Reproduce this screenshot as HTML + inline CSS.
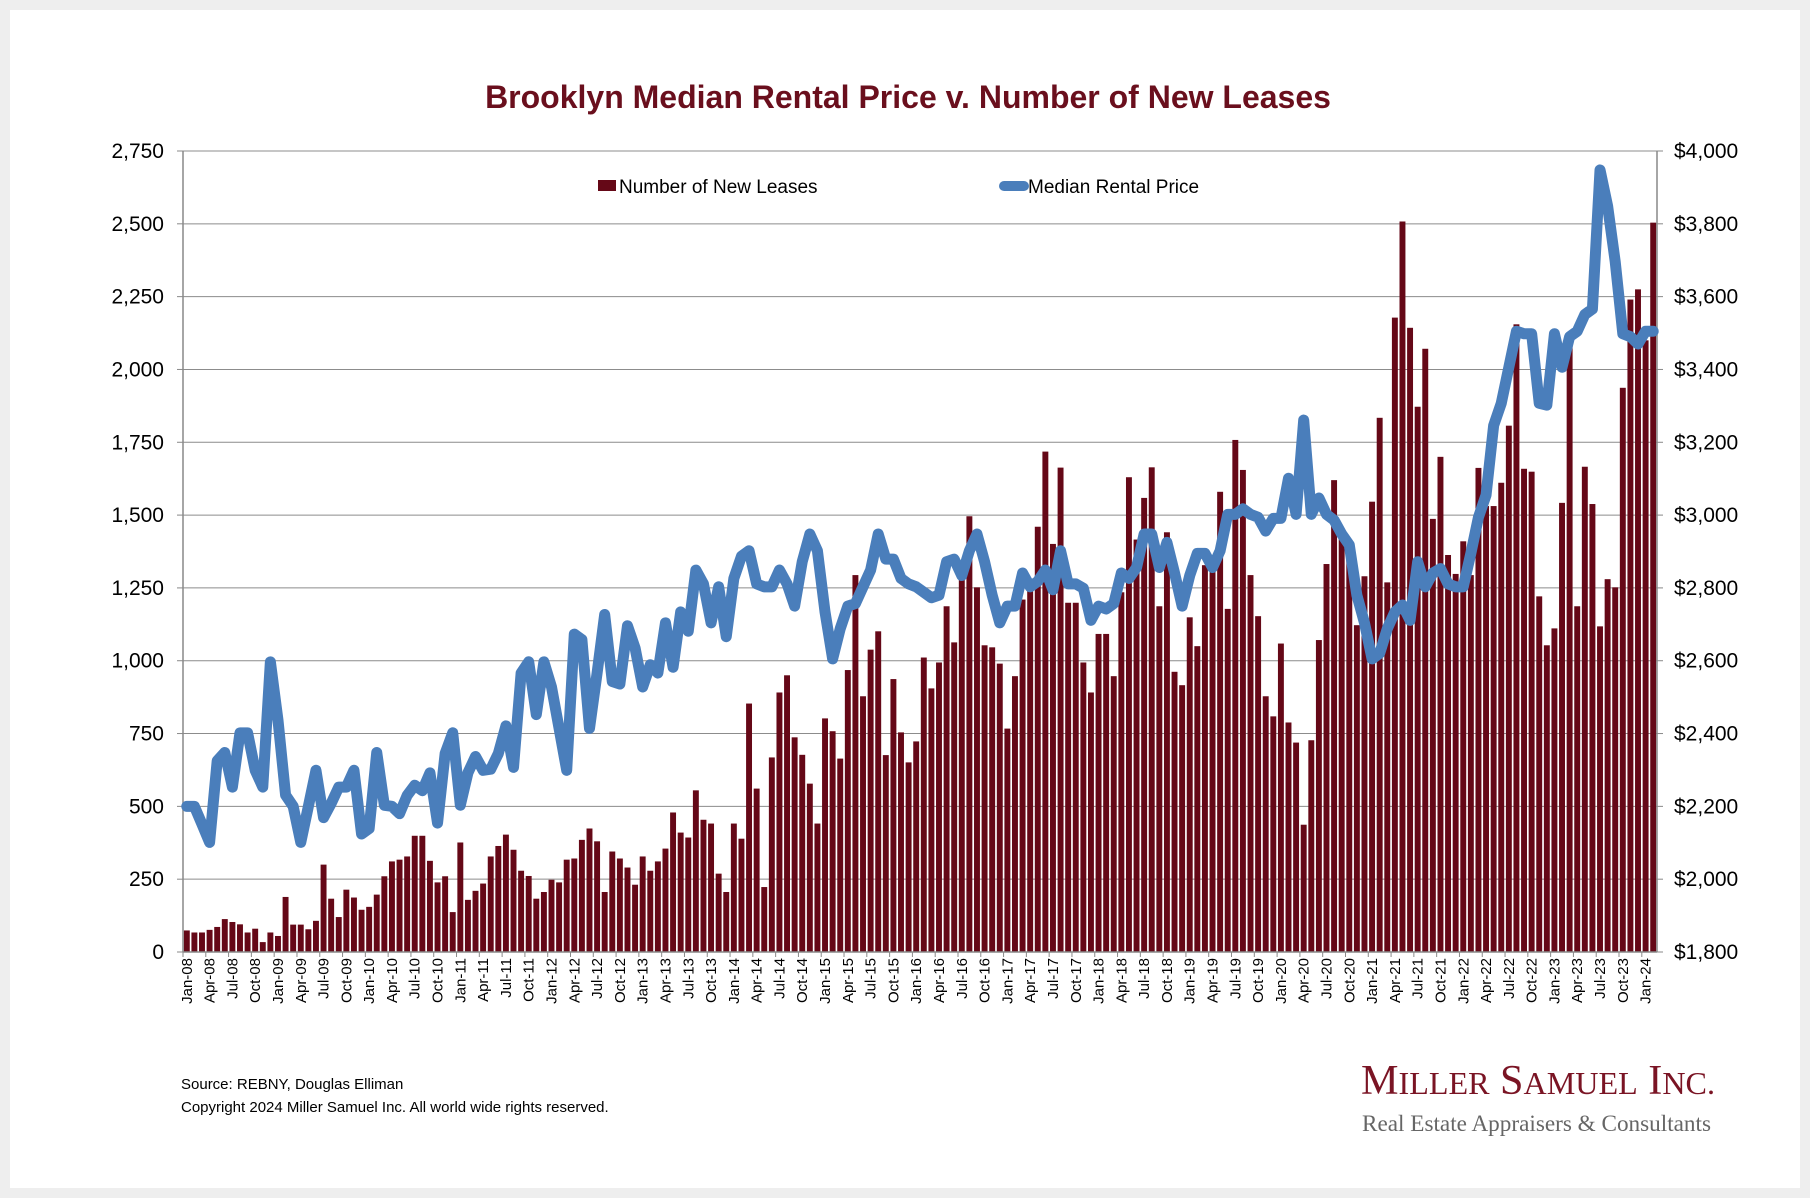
<!DOCTYPE html>
<html><head><meta charset="utf-8"><style>
html,body{margin:0;padding:0;background:#eeeeee;}
body{width:1810px;height:1198px;position:relative;overflow:hidden;font-family:"Liberation Sans",Arial,sans-serif;}
#panel{position:absolute;left:10px;top:10px;width:1790px;height:1178px;background:#fff;}
svg{position:absolute;left:0;top:0;}
</style></head><body>
<div id="panel"></div>
<svg id="chart" width="1810" height="1198"></svg>
<script>
const leases = [74,67,67,76,86,113,103,95,67,80,34,67, 55,189,94,94,78,107,300,183,120,214,187,145, 155,197,260,311,317,328,399,399,313,239,260,137, 376,179,210,235,
328,364,403,351,279,261,183,206, 248,239,317,321,385,424,380,206,345,321,290,231, 328,279,311,355,479,410,393,555,454,441,269,206, 441,389,853,561,223,668,891,
950,737,677,578,441, 802,758,664,968,1294,878,1038,1101,676,937,754,651, 723,1011,905,994,1187,1063,1300,1496,1252,1053,1046,990, 767,947,1210,1240,1460,1718,1401,1663,1199,1199,994,
891, 1092,1092,947,1235,1630,1416,1559,1664,1187,1441,962,916, 1149,1050,1328,1330,1580,1178,1758,1655,1294,1153,878,809, 1059,788,719,437,727,1071,1332,1620,1450,1400,1122,1290, 1546,1834,
1269,2178,2508,2143,1872,2071,1487,1700,1363,1298, 1410,1294,1662,1531,1531,1611,1807,2155,1659,1649,1221,1053, 1111,1542,2103,1187,1666,1538,1118,1280,1252,1937,2240,2275, 2100,2504];
const prices = [2200,2200,2151,2101,2325,2348,2253,2402,2402,2299,2253,2597, 2437,2231,2200,2101,2200,2299,2169,2208,2253,2253,2299,2124, 2139,2348,2203,2200,2180,2230,2258,2243,2292,2154,2345,2402, 2203,2292,2337,2299,
2302,2345,2421,2307,2566,2597,2452,2597, 2528,2414,2299,2673,2658,2414,2566,2727,2543,2536,2696,2635, 2528,2589,2566,2704,2582,2734,2681,2849,2811,2704,2803,2666, 2826,2887,2902,2811,2803,2803,2849,
2811,2750,2872,2948,2902, 2734,2605,2688,2750,2757,2803,2849,2948,2879,2879,2826,2811, 2803,2788,2773,2780,2872,2879,2834,2902,2948,2872,2780,2704, 2750,2750,2841,2803,2818,2849,2795,2902,2811,2811,2799,
2711, 2750,2742,2757,2841,2826,2856,2948,2948,2856,2925,2841,2750, 2834,2895,2895,2856,2902,3002,3002,3017,3002,2994,2956,2991, 2991,3101,3002,3261,3002,3047,3002,2986,2948,2918,2780,2704, 2605,2620,
2688,2734,2753,2711,2872,2803,2841,2853,2811,2803, 2803,2895,2994,3055,3246,3307,3406,3505,3498,3498,3307,3302, 3498,3406,3490,3505,3551,3566,3948,3849,3696,3498,3490,3470, 3505,3505];
const leftTicks = [0,250,500,750,1000,1250,1500,1750,2000,2250,2500,2750];
const rightTicks = [1800,2000,2200,2400,2600,2800,3000,3200,3400,3600,3800,4000];
const monthNames = ["Jan","Feb","Mar","Apr","May","Jun","Jul","Aug","Sep","Oct","Nov","Dec"];
const startYear = 2008;

const NS="http://www.w3.org/2000/svg";
const svg=document.getElementById('chart');
const L=183,R=1657,T=151,B=952;
const n=leases.length, slot=(R-L)/n;
const xC=i=>L+slot*(i+0.5);
const yL=v=>B-(v-0)/(2750-0)*(B-T);
const yR=v=>B-(v-1800)/(4000-1800)*(B-T);
function mk(tag,attrs,parent){const e=document.createElementNS(NS,tag);for(const k in attrs)e.setAttribute(k,attrs[k]);(parent||svg).appendChild(e);return e;}

let t=mk('text',{x:908,y:108,'text-anchor':'middle','font-size':32,'font-weight':'bold',fill:'#6a0f1d'});
t.textContent='Brooklyn Median Rental Price v. Number of New Leases';



leftTicks.forEach((v,i)=>{
  const y=yL(v);
  const g=mk('line',{x1:L,x2:R,y1:y,y2:y,stroke:'#8c8c8c','stroke-width':1});
  
  
  mk('line',{x1:L-6,x2:L,y1:y,y2:y,stroke:'#888'});
  mk('line',{x1:R,x2:R+6,y1:y,y2:y,stroke:'#888'});
  const lt=mk('text',{x:L-19,y:y+7,'text-anchor':'end','font-size':21,fill:'#000'});
  lt.textContent=v.toLocaleString('en-US');
  
  
  const rv=rightTicks[i];
  const rt=mk('text',{x:R+17,y:yR(rv)+7,'text-anchor':'start','font-size':21,fill:'#000'});
  rt.textContent='$'+rv.toLocaleString('en-US');
  
  
});
leases.forEach((v,i)=>{
  const w=slot*0.78;
  const b=mk('rect',{x:xC(i)-w/2,y:yL(v),width:w,height:B-yL(v),fill:'#650817'});
  
  
});
mk('line',{x1:L,x2:L,y1:T,y2:B,stroke:'#888','stroke-width':1.5});
mk('line',{x1:R,x2:R,y1:T,y2:B,stroke:'#888','stroke-width':1.5});
mk('line',{x1:L,x2:R,y1:B,y2:B,stroke:'#888','stroke-width':1.5});
const pl=mk('polyline',{points:prices.map((v,i)=>xC(i)+','+yR(v)).join(' '),fill:'none',stroke:'#4a7ebb','stroke-width':11,'stroke-linejoin':'round','stroke-linecap':'round'});


for(let i=0;i<n;i++){
  if(i%3!==0)continue;
  const m=i%12, yr=startYear+Math.floor(i/12);
  const lab=(m===8?'Sep':monthNames[m]);
  const txt=(m===9?'Oct':lab)+'-'+String(yr%100).padStart(2,'0');
  mk('line',{x1:L+slot*i,x2:L+slot*i,y1:B,y2:B+5,stroke:'#888'});
  const x=xC(i)+5, y=B+6;
  const tx=mk('text',{x:x,y:y,'text-anchor':'end','font-size':15,fill:'#000',transform:`rotate(-90 ${x} ${y})`});
  tx.textContent=txt;
  
  
}
const lg=mk('g',{});


mk('rect',{x:598,y:180,width:18,height:11,fill:'#650817'},lg);
let l1=mk('text',{x:619,y:193,'font-size':19,fill:'#000'},lg);l1.textContent='Number of New Leases';


mk('line',{x1:1004,x2:1024,y1:186,y2:186,stroke:'#4a7ebb','stroke-width':10,'stroke-linecap':'round'},lg);
let l2=mk('text',{x:1028,y:193,'font-size':19,fill:'#000'},lg);l2.textContent='Median Rental Price';


let s1=mk('text',{x:181,y:1089,'font-size':15,fill:'#000'});s1.textContent='Source: REBNY, Douglas Elliman';


let s2=mk('text',{x:181,y:1112,'font-size':15,fill:'#000'});s2.textContent='Copyright 2024 Miller Samuel Inc.  All world wide rights reserved.';


let g1=mk('text',{x:1361,y:1094,'font-size':42,fill:'#7a1424','font-family':'Liberation Serif, serif',textLength:354,lengthAdjust:'spacingAndGlyphs'});
g1.innerHTML='M<tspan font-size="32">ILLER</tspan> S<tspan font-size="32">AMUEL</tspan> I<tspan font-size="32">NC.</tspan>';


let g2=mk('text',{x:1362,y:1131,'font-size':23,fill:'#666','font-family':'Liberation Serif, serif',textLength:349,lengthAdjust:'spacingAndGlyphs'});
g2.textContent='Real Estate Appraisers & Consultants';


</script>
</body></html>
